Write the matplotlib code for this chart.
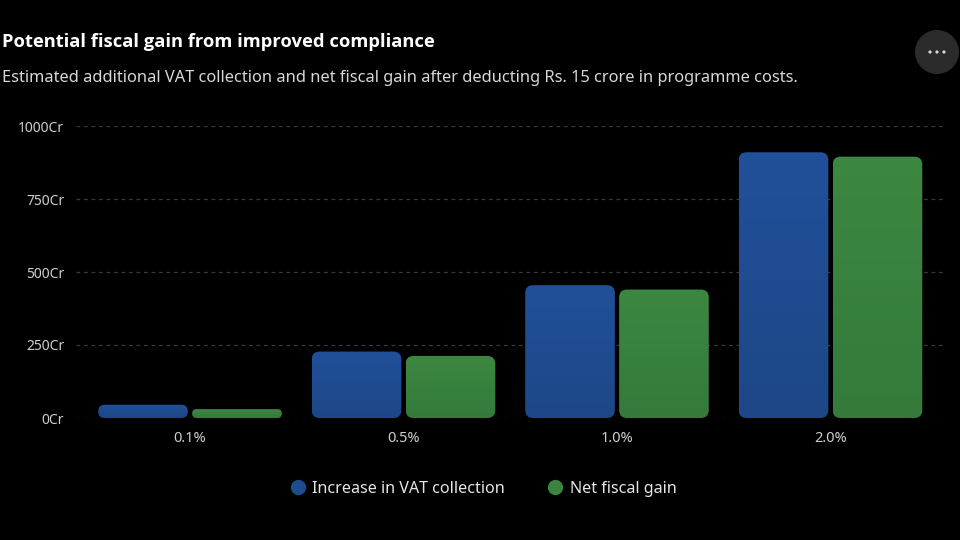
import numpy as np
import matplotlib
matplotlib.use("Agg")
import matplotlib.pyplot as plt
from matplotlib.patches import FancyBboxPatch, Circle
from matplotlib.lines import Line2D
from matplotlib.transforms import IdentityTransform
from matplotlib.colors import LinearSegmentedColormap

categories = ["0.1%", "0.5%", "1.0%", "2.0%"]
vat_increase = [45.5, 227.5, 455, 910]
net_gain = [30.5, 212.5, 440, 895]
series_names = ["Increase in VAT collection", "Net fiscal gain"]
y_ticks = [0, 250, 500, 750, 1000]
y_tick_labels = ["0Cr", "250Cr", "500Cr", "750Cr", "1000Cr"]

title = "Potential fiscal gain from improved compliance"
subtitle = "Estimated additional VAT collection and net fiscal gain after deducting Rs. 15 crore in programme costs."

plt.rcParams["font.family"] = ["Noto Sans", "DejaVu Sans"]

W, H = 960, 540
fig = plt.figure(figsize=(W / 100, H / 100), dpi=100, facecolor="black")
ax = fig.add_axes([76 / W, (H - 418) / H, (943 - 76) / W, 292 / H])
ax.set_facecolor("black")

x = np.arange(len(categories))
bar_w = 0.42
off = 0.22
xlim = (-0.534, 3.527)
ylim = (0, 1000)
ax.set_xlim(*xlim)
ax.set_ylim(*ylim)

# grid
for t in y_ticks:
    ax.axhline(t, color="#3a3a3a", lw=0.9, ls=(0, (3, 3)), zorder=0)

cmaps = [
    LinearSegmentedColormap.from_list("b", ["#1d4787", "#21509a"]),
    LinearSegmentedColormap.from_list("g", ["#357a3b", "#3c8742"]),
]
solid = ["#1f4c8f", "#3a8340"]

grad = np.linspace(0, 1, 64).reshape(-1, 1)
for s, (vals, dx) in enumerate([(vat_increase, -off), (net_gain, off)]):
    bars = ax.bar(x + dx, vals, bar_w, color="none", zorder=1)
    for b in bars:
        left, right = b.get_x(), b.get_x() + b.get_width()
        h = b.get_height()
        (px0, py0) = ax.transData.transform((left, 0))
        (px1, py1) = ax.transData.transform((right, h))
        r = min(8, (py1 - py0) / 2)
        patch = FancyBboxPatch((px0, py0), px1 - px0, py1 - py0,
                               boxstyle=f"round,pad=0,rounding_size={r}",
                               transform=IdentityTransform(),
                               facecolor="none", edgecolor="none")
        ax.add_patch(patch)
        im = ax.imshow(grad, extent=[left, right, 0, h], origin="lower",
                       aspect="auto", cmap=cmaps[s], zorder=2)
        im.set_clip_path(patch)

ax.set_xlim(*xlim)
ax.set_ylim(*ylim)

ax.set_xticks(x)
ax.set_xticklabels(categories)
ax.set_yticks(y_ticks)
ax.set_yticklabels(y_tick_labels)
ax.tick_params(length=0, colors="#cfcfcf", labelsize=10)
ax.tick_params(axis="x", pad=9, labelsize=10.5)
ax.tick_params(axis="y", pad=8.4)
for sp in ax.spines.values():
    sp.set_visible(False)

fig.text(2 / W, 1 - 42 / H, title, color="white", fontsize=13.2,
         fontweight="bold", va="center", ha="left",
         family=["Open Sans", "DejaVu Sans"])
fig.text(2 / W, 1 - 78 / H, subtitle, color="#d8d8d8", fontsize=11.8,
         va="center", ha="left")

handles = [Line2D([], [], ls="none", marker="o", markersize=10,
                  markerfacecolor=solid[i], markeredgecolor=solid[i])
           for i in range(2)]
fig.legend(handles, series_names, loc="center", bbox_to_anchor=(479 / W, 1 - 489 / H),
           ncol=2, frameon=False, labelcolor="#e6e6e6", fontsize=11.6,
           handletextpad=-0.1, columnspacing=2.1)

# more-options button
fig.add_artist(Circle((937, H - 52), 22, transform=IdentityTransform(),
                      facecolor="#2b2b2b", edgecolor="none"))
for dxp in (-7, 0, 7):
    fig.add_artist(Circle((937 + dxp, H - 52), 1.6, transform=IdentityTransform(),
                          facecolor="#d8d8d8", edgecolor="none"))

fig.savefig("out.png", dpi=100, facecolor="black")
